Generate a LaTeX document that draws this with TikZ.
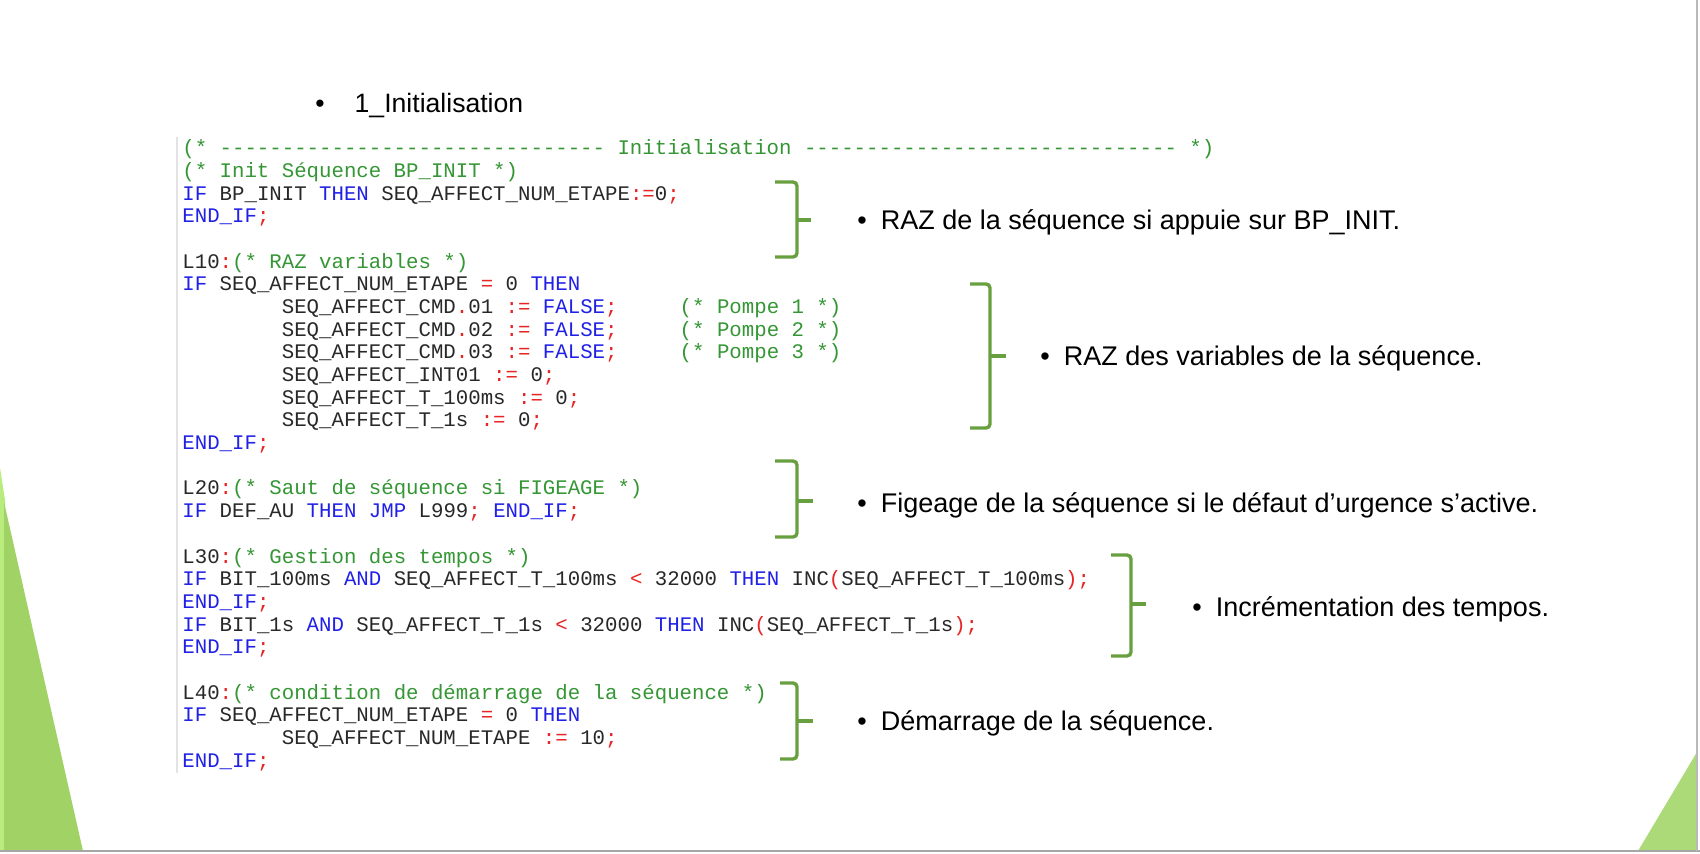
\documentclass[tikz,border=0pt]{standalone}
\usepackage{fontspec}
\setmainfont{Liberation Sans}
\setmonofont{Liberation Mono}
\definecolor{kw}{RGB}{32,32,230}
\definecolor{op}{RGB}{232,36,36}
\definecolor{cmt}{RGB}{52,150,52}
\definecolor{idf}{RGB}{40,40,40}
\definecolor{brk}{RGB}{104,160,64}
\definecolor{dgreen}{RGB}{160,210,102}
\definecolor{lgreen}{RGB}{184,236,124}
\definecolor{rgreen}{RGB}{172,218,120}
\newcommand\K[1]{\textcolor{kw}{#1}}
\newcommand\R[1]{\textcolor{op}{#1}}
\newcommand\G[1]{\textcolor{cmt}{#1}}
\newlength\cw
\setlength\cw{6.216pt}
\newcommand\SP[1]{\hspace*{#1\cw}}
\newcommand\mybrace[6]{%
  \draw[bracestyle] (#1,#4) -- (#2,#4) -- (#2,#5) -- (#1,#5);
  \draw[bracestyle] (#2,#6) -- (#3,#6);}
\begin{document}
\begin{tikzpicture}[x=0.5pt,y=-0.5pt,
  codeline/.style={anchor=base west, inner sep=0pt, text=idf,
    font=\ttfamily\fontsize{10.36}{11.33}\selectfont\frenchspacing},
  itemtext/.style={anchor=base west, inner sep=0pt, text=black,
    font=\fontsize{13.5}{16}\selectfont},
  bracestyle/.style={draw=brk, line width=1.7pt, rounded corners=2pt}]
\useasboundingbox (0,0) rectangle (1700,854);
\fill[white] (0,0) rectangle (1700,854);
% slide decorations
\fill[lgreen] (0,468) -- (5,500) -- (5,851) -- (0,851) -- cycle;
\fill[dgreen] (4,502) -- (83,851) -- (4,851) -- cycle;
\fill[rgreen] (1697,752) -- (1697,851) -- (1638,851) -- cycle;
\draw[gray!70, line width=1.4pt] (0,851) -- (1700,851);
\draw[gray!55, line width=1pt] (1697,0) -- (1697,851);
% code panel border
\draw[gray!22, line width=0.6pt] (177,137) -- (177,773);
% title
\node[itemtext, font=\fontsize{13.3}{16}\selectfont] (title) at (315,113) {\textbullet\hspace{15pt}1\_Initialisation};
% code lines
\node[codeline] (c0) at (182,155.0) {\G{(* ------------------------------- Initialisation ------------------------------ *)}};
\node[codeline] (c1) at (182,177.7) {\G{(* Init Séquence BP\_INIT *)}};
\node[codeline] (c2) at (182,200.3) {\K{IF} BP\_INIT \K{THEN} SEQ\_AFFECT\_NUM\_ETAPE\R{:=}0\R{;}};
\node[codeline] (c3) at (182,223.0) {\K{END\_IF}\R{;}};
\node[codeline] (c5) at (182,268.3) {L10\R{:}\G{(* RAZ variables *)}};
\node[codeline] (c6) at (182,291.0) {\K{IF} SEQ\_AFFECT\_NUM\_ETAPE \R{=} 0 \K{THEN}};
\node[codeline] (c7) at (182,313.7) {\SP{8}SEQ\_AFFECT\_CMD\R{.}01 \R{:=} \K{FALSE}\R{;}\SP{5}\G{(* Pompe 1 *)}};
\node[codeline] (c8) at (182,336.3) {\SP{8}SEQ\_AFFECT\_CMD\R{.}02 \R{:=} \K{FALSE}\R{;}\SP{5}\G{(* Pompe 2 *)}};
\node[codeline] (c9) at (182,359.0) {\SP{8}SEQ\_AFFECT\_CMD\R{.}03 \R{:=} \K{FALSE}\R{;}\SP{5}\G{(* Pompe 3 *)}};
\node[codeline] (c10) at (182,381.7) {\SP{8}SEQ\_AFFECT\_INT01 \R{:=} 0\R{;}};
\node[codeline] (c11) at (182,404.3) {\SP{8}SEQ\_AFFECT\_T\_100ms \R{:=} 0\R{;}};
\node[codeline] (c12) at (182,427.0) {\SP{8}SEQ\_AFFECT\_T\_1s \R{:=} 0\R{;}};
\node[codeline] (c13) at (182,449.7) {\K{END\_IF}\R{;}};
\node[codeline] (c15) at (182,495.0) {L20\R{:}\G{(* Saut de séquence si FIGEAGE *)}};
\node[codeline] (c16) at (182,517.7) {\K{IF} DEF\_AU \K{THEN} \K{JMP} L999\R{;} \K{END\_IF}\R{;}};
\node[codeline] (c18) at (182,563.0) {L30\R{:}\G{(* Gestion des tempos *)}};
\node[codeline] (c19) at (182,585.7) {\K{IF} BIT\_100ms \K{AND} SEQ\_AFFECT\_T\_100ms \R{<} 32000 \K{THEN} INC\R{(}SEQ\_AFFECT\_T\_100ms\R{);}};
\node[codeline] (c20) at (182,608.3) {\K{END\_IF}\R{;}};
\node[codeline] (c21) at (182,631.0) {\K{IF} BIT\_1s \K{AND} SEQ\_AFFECT\_T\_1s \R{<} 32000 \K{THEN} INC\R{(}SEQ\_AFFECT\_T\_1s\R{);}};
\node[codeline] (c22) at (182,653.7) {\K{END\_IF}\R{;}};
\node[codeline] (c24) at (182,699.0) {L40\R{:}\G{(* condition de démarrage de la séquence *)}};
\node[codeline] (c25) at (182,721.7) {\K{IF} SEQ\_AFFECT\_NUM\_ETAPE \R{=} 0 \K{THEN}};
\node[codeline] (c26) at (182,744.3) {\SP{8}SEQ\_AFFECT\_NUM\_ETAPE \R{:=} 10\R{;}};
\node[codeline] (c27) at (182,767.0) {\K{END\_IF}\R{;}};
% braces
\mybrace{775}{797}{811}{182}{257}{220}
\mybrace{970}{990}{1006}{284}{428}{356}
\mybrace{775}{797}{813}{461}{537}{501}
\mybrace{1111}{1131}{1146}{555}{656}{604}
\mybrace{780}{797}{813}{683}{759}{721}
% explanations
\node[itemtext] (t1) at (857,229.5) {\textbullet\hspace{7pt}RAZ de la séquence si appuie sur BP\_INIT.};
\node[itemtext] (t2) at (1040,365.5) {\textbullet\hspace{7pt}RAZ des variables de la séquence.};
\node[itemtext] (t3) at (857,513) {\textbullet\hspace{7pt}Figeage de la séquence si le défaut d’urgence s’active.};
\node[itemtext] (t4) at (1192,616) {\textbullet\hspace{7pt}Incrémentation des tempos.};
\node[itemtext] (t5) at (857,730) {\textbullet\hspace{7pt}Démarrage de la séquence.};
\end{tikzpicture}
\end{document}
